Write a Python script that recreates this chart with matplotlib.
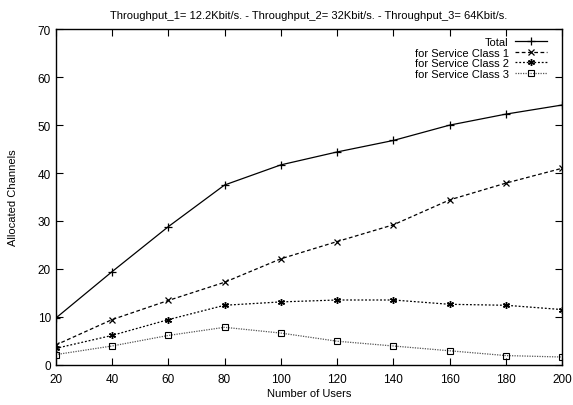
import matplotlib
matplotlib.use("Agg")
import matplotlib.pyplot as plt

plt.rcParams.update({"font.family": ["Liberation Sans", "DejaVu Sans"], "font.size": 8})

users = [20, 40, 60, 80, 100, 120, 140, 160, 180, 200]
total = [9.7, 19.4, 28.8, 37.5, 41.7, 44.4, 46.8, 50.0, 52.3, 54.2]
class1 = [4.1, 9.4, 13.4, 17.2, 22.1, 25.7, 29.2, 34.4, 37.9, 41.0]
class2 = [3.4, 6.1, 9.4, 12.4, 13.1, 13.5, 13.5, 12.6, 12.4, 11.5]
class3 = [2.1, 3.9, 6.1, 7.8, 6.6, 4.9, 3.9, 2.9, 1.9, 1.6]

fig = plt.figure(figsize=(5.73, 4.06), dpi=100)
ax = fig.add_axes([0.0972, 0.0993, 0.8841, 0.8261])

ax.plot(users, total, "-", marker="+", color="black", lw=0.9, ms=6, mew=0.9, label="Total")
ax.plot(users, class1, color="black", ls=(0, (3, 2)), marker="x", lw=0.9, ms=5, mew=0.9,
        label="for Service Class 1")
ax.plot(users, class2, color="black", ls=(0, (1.5, 1.5)), marker=(6, 2, 0), lw=0.9, ms=5,
        mew=1.0, label="for Service Class 2")
ax.plot(users, class3, color="#555555", ls=(0, (1, 1)), marker="s", mfc="none", mec="black",
        lw=0.9, ms=5, mew=0.8, label="for Service Class 3")

ax.set_xlim(20, 200)
ax.set_ylim(0, 70)
ax.set_xticks(users)
ax.set_yticks(range(0, 71, 10))
ax.tick_params(direction="in", top=True, right=True, length=5, width=0.8, labelsize=8.5)
ax.tick_params(axis="x", pad=6)
for s in ax.spines.values():
    s.set_linewidth(1.0)
ax.set_xlabel("Number of Users", fontsize=8, labelpad=2)
ax.set_ylabel("Allocated Channels", fontsize=8, labelpad=14)
ax.set_title("Throughput_1= 12.2Kbit/s. - Throughput_2= 32Kbit/s. - Throughput_3= 64Kbit/s.",
             fontsize=8, pad=8)
ax.legend(loc="upper right", bbox_to_anchor=(0.986, 1.0), frameon=False, markerfirst=False,
          fontsize=8, handlelength=2.9, labelspacing=0.05, borderaxespad=0.3, handletextpad=0.6)

fig.savefig("out.png", dpi=100)
